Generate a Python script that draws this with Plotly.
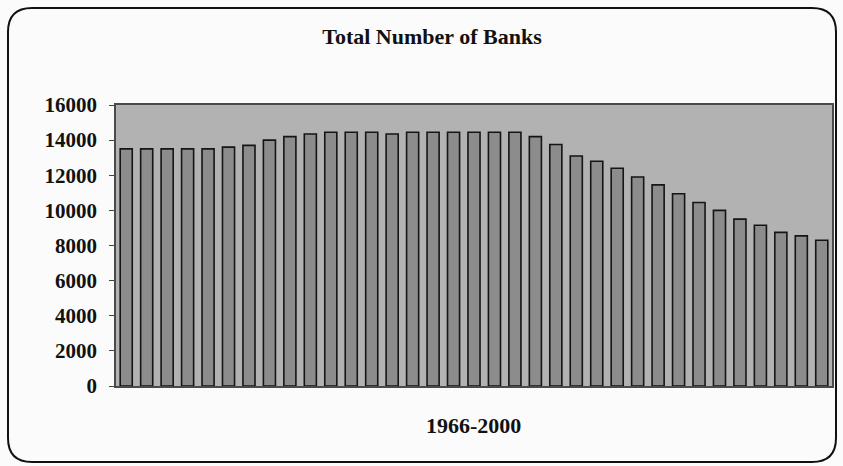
import plotly.graph_objects as go

years = list(range(1966, 2001))
banks = [13500, 13500, 13500, 13500, 13500, 13600, 13700, 14000, 14200, 14350,
         14450, 14450, 14450, 14350, 14450, 14450, 14450, 14450, 14450, 14450,
         14200, 13750, 13100, 12800, 12400, 11900, 11450, 10950, 10450, 10000,
         9500, 9150, 8750, 8550, 8300]
y_ticks = [0, 2000, 4000, 6000, 8000, 10000, 12000, 14000, 16000]

W, H = 843, 466
FONT = "Liberation Serif, Times New Roman, serif"

fig = go.Figure()
fig.add_trace(go.Bar(
    x=[str(y) for y in years], y=banks,
    marker=dict(color="#8c8c8c", line=dict(color="#151515", width=1.6)),
    hoverinfo="x+y",
))

px_l, px_r, px_t, px_b = 116, 832, 105, 386

def fx(p):
    return p / W

def fy(p):
    return 1 - p / H

# rounded border around the whole chart
x0, x1, y0, y1, r = 8, 836, 8, 462, 24
path = (f"M {fx(x0 + r)},{fy(y0)} L {fx(x1 - r)},{fy(y0)} "
        f"Q {fx(x1)},{fy(y0)} {fx(x1)},{fy(y0 + r)} "
        f"L {fx(x1)},{fy(y1 - r)} Q {fx(x1)},{fy(y1)} {fx(x1 - r)},{fy(y1)} "
        f"L {fx(x0 + r)},{fy(y1)} Q {fx(x0)},{fy(y1)} {fx(x0)},{fy(y1 - r)} "
        f"L {fx(x0)},{fy(y0 + r)} Q {fx(x0)},{fy(y0)} {fx(x0 + r)},{fy(y0)} Z")

fig.update_layout(
    width=W, height=H,
    margin=dict(l=0, r=0, t=0, b=0),
    paper_bgcolor="#fbfbfb",
    plot_bgcolor="#b2b2b2",
    bargap=0.41,
    showlegend=False,
    font=dict(family=FONT, color="#111111"),
    title=dict(text="Total Number of Banks", x=432 / W, xanchor="center",
               y=fy(36), yanchor="middle",
               font=dict(family=FONT, size=22, weight="bold", color="#111111")),
    xaxis=dict(domain=[fx(px_l), fx(px_r)], showticklabels=False, ticks="",
               showgrid=False, zeroline=False, showline=True, mirror=True,
               linecolor="#4a4a4a", linewidth=1.5, range=[-0.5, 34.5],
               automargin=False),
    yaxis=dict(domain=[fy(px_b), fy(px_t)], range=[0, 16000],
               tickvals=y_ticks, ticktext=[str(v) for v in y_ticks],
               ticks="outside", ticklen=5, tickcolor="#444444",
               ticklabelstandoff=8,
               showgrid=False, zeroline=False, showline=True, mirror=True,
               linecolor="#4a4a4a", linewidth=1.5,
               tickfont=dict(family=FONT, size=21, weight="bold", color="#111111"),
               automargin=False),
    shapes=[dict(type="path", path=path, xref="paper", yref="paper",
                 line=dict(color="#111111", width=2), layer="above")],
    annotations=[dict(text="1966-2000", x=(px_l + px_r) / 2 / W, y=fy(425),
                      xref="paper", yref="paper", showarrow=False,
                      xanchor="center", yanchor="middle",
                      font=dict(family=FONT, size=22, weight="bold", color="#111111"))],
)

fig.write_html("out.html")
